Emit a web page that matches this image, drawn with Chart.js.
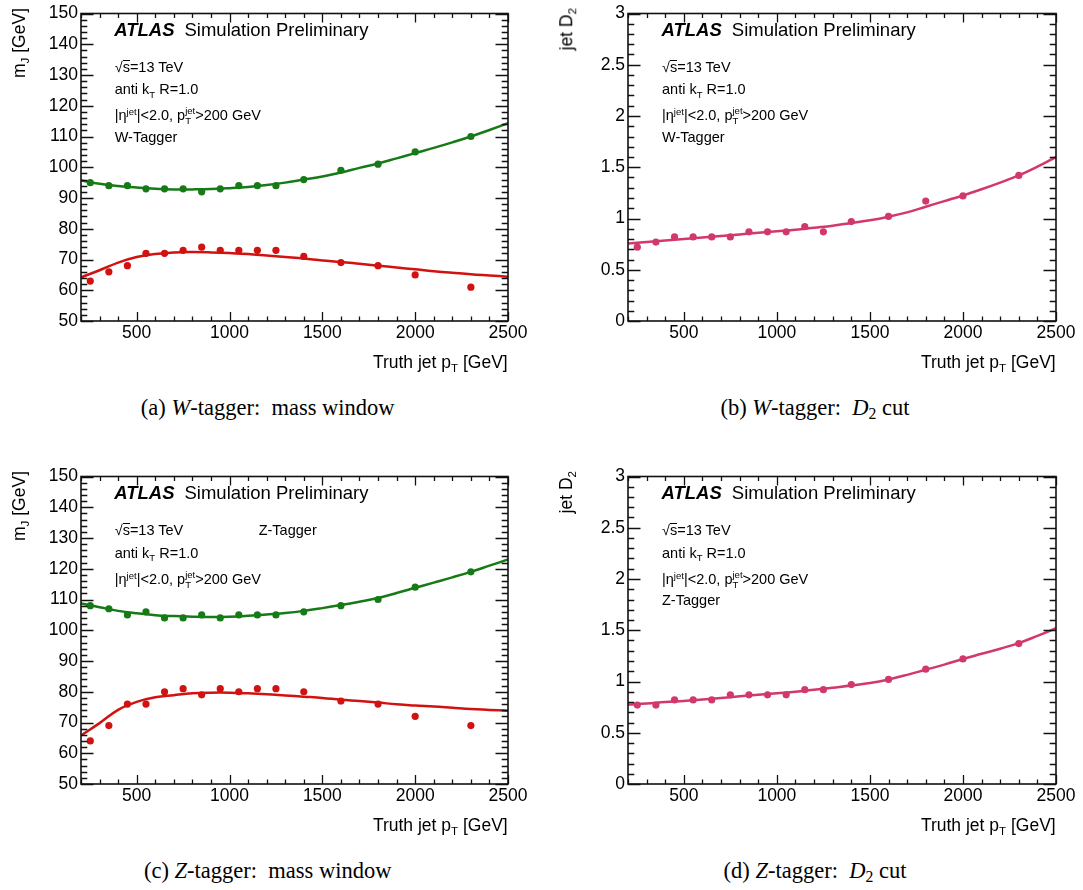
<!DOCTYPE html>
<html>
<head>
<meta charset="utf-8">
<title>W/Z tagger working points</title>
<script src="https://cdn.jsdelivr.net/npm/chart.js"></script>
<style>
  body { margin: 0; background: #fff; width: 1083px; height: 890px; position: relative; overflow: hidden;
         font-family: "Liberation Sans", Arial, Helvetica, sans-serif; color: #000; }
  canvas { position: absolute; }
  .t { position: absolute; white-space: nowrap; line-height: 1; }
  .atlas { font-size: 18.5px; }
  .atlas b { font-style: italic; font-weight: bold; margin-right: 10px; }
  .info { font-size: 14.5px; }
  .sb { position: relative; top: 0.38em; font-size: 0.66em; }
  .sp { position: relative; top: -0.5em; font-size: 0.66em; }
  .stk { display: inline-block; vertical-align: middle; font-size: 0.66em; line-height: 1.05; }
  .stk span { display: block; }
  .ov { border-top: 1px solid #000; line-height: 0.85; display: inline-block; }
  .axt { font-size: 17.5px; }
  .ytitle { transform-origin: 0 0; transform: rotate(-90deg) translate(-100%, -50%); }
  .xtitle { transform: translateX(-100%); }
  .cap { font-family: "Liberation Serif", "Times New Roman", serif; font-size: 22.5px; transform: translateX(-50%); }
  .cap i { font-style: italic; }
  .cap sub { font-size: 0.7em; vertical-align: -0.25em; line-height: 0; }
</style>
</head>
<body>
<canvas id="cA"></canvas>
<canvas id="cB"></canvas>
<canvas id="cC"></canvas>
<canvas id="cD"></canvas>

<script>
// truth jet pT bin centres and the x positions where the fit curves are sampled
const binCentres = [250, 350, 450, 550, 650, 750, 850, 950, 1050, 1150, 1250, 1400, 1600, 1800, 2000, 2300];
const curveX = [200, 300, 400, 500, 600, 700, 800, 900, 1000, 1100, 1200, 1300, 1400, 1500, 1600, 1700, 1800, 1900, 2000, 2100, 2200, 2300, 2400, 2500];

// W-tagger mass window
const wUpperPts = [95, 94, 94, 93, 93, 93, 92, 93, 94, 94, 94, 96, 99, 101, 105, 110];
const wLowerPts = [63, 66, 68, 72, 72, 73, 74, 73, 73, 73, 73, 71, 69, 68, 65, 61];
const wUpperFit = [95.7, 94.6, 93.9, 93.4, 93.0, 92.8, 92.8, 92.9, 93.2, 93.6, 94.2, 95.0, 96.0, 97.0, 98.3, 99.8, 101.2, 102.9, 104.6, 106.3, 108.1, 110.0, 112.1, 114.3];
const wLowerFit = [64.2, 66.5, 69.0, 70.8, 71.8, 72.3, 72.4, 72.3, 72.1, 71.8, 71.3, 70.8, 70.3, 69.7, 69.2, 68.6, 68.0, 67.4, 66.8, 66.2, 65.7, 65.2, 64.8, 64.4];

// W-tagger D2 cut
const wD2Pts = [0.72, 0.77, 0.82, 0.82, 0.82, 0.82, 0.87, 0.87, 0.87, 0.92, 0.87, 0.97, 1.02, 1.17, 1.22, 1.42];
const wD2Fit = [0.755, 0.77, 0.785, 0.80, 0.815, 0.83, 0.845, 0.86, 0.875, 0.89, 0.91, 0.93, 0.955, 0.983, 1.018, 1.06, 1.115, 1.17, 1.225, 1.285, 1.35, 1.42, 1.505, 1.60];

// Z-tagger mass window
const zUpperPts = [108, 107, 105, 106, 104, 104, 105, 104, 105, 105, 105, 106, 108, 110, 114, 119];
const zLowerPts = [64, 69, 76, 76, 80, 81, 79, 81, 80, 81, 81, 80, 77, 76, 72, 69];
const zUpperFit = [108.7, 107.5, 106.3, 105.5, 104.9, 104.6, 104.4, 104.3, 104.4, 104.7, 105.1, 105.6, 106.3, 107.2, 108.2, 109.3, 110.5, 112.1, 113.8, 115.5, 117.2, 119.0, 121.0, 123.0];
const zLowerFit = [65.8, 69.8, 74.1, 76.7, 78.2, 78.9, 79.5, 79.7, 79.7, 79.5, 79.2, 78.8, 78.4, 78.0, 77.4, 77.0, 76.5, 75.9, 75.5, 75.2, 74.8, 74.4, 74.1, 73.8];

// Z-tagger D2 cut
const zD2Pts = [0.77, 0.77, 0.82, 0.82, 0.82, 0.87, 0.87, 0.87, 0.87, 0.92, 0.92, 0.97, 1.02, 1.12, 1.22, 1.37];
const zD2Fit = [0.775, 0.785, 0.80, 0.81, 0.825, 0.84, 0.855, 0.87, 0.885, 0.90, 0.92, 0.94, 0.96, 0.985, 1.02, 1.065, 1.115, 1.165, 1.22, 1.27, 1.32, 1.375, 1.445, 1.52];

// tick labels
const xTickLabels = [500, 1000, 1500, 2000, 2500];
const massTickLabels = [50, 60, 70, 80, 90, 100, 110, 120, 130, 140, 150];
const d2TickLabels = [0, 0.5, 1, 1.5, 2, 2.5, 3];

const GREEN = '#167a16';
const RED = '#d21111';
const PINK = '#d2386b';

const FONT = '"Liberation Sans", Arial, sans-serif';

function pairs(xs, ys) { return ys.map((y, i) => ({ x: xs[i], y })); }

function curve(ys, color) {
  return { data: pairs(curveX, ys), showLine: true, borderColor: color, borderWidth: 2.5,
           pointRadius: 0, tension: 0.4, fill: false };
}
function points(ys, color) {
  return { data: pairs(binCentres, ys), showLine: false, backgroundColor: color, borderColor: color,
           borderWidth: 0, pointRadius: 3.6 };
}

// ROOT style frame: box with inward ticks on all four sides
function rootFrame(yMin, yMax, minor, every) {
  return {
    id: 'rootFrame',
    afterDraw(chart) {
      const { ctx, chartArea, scales } = chart;
      const { left, right, top, bottom } = chartArea;
      const x = scales.x, y = scales.y;
      ctx.save();
      ctx.strokeStyle = '#111';
      ctx.lineWidth = 1.3;
      ctx.beginPath();
      for (let v = 200; v <= 2500; v += 100) {
        const px = Math.round(x.getPixelForValue(v)) + 0.5;
        const len = v % 500 === 0 ? 9 : 4.5;
        ctx.moveTo(px, bottom); ctx.lineTo(px, bottom - len);
        ctx.moveTo(px, top); ctx.lineTo(px, top + len);
      }
      const n = Math.round((yMax - yMin) / minor);
      for (let i = 0; i <= n; i++) {
        const py = Math.round(y.getPixelForValue(yMin + i * minor)) + 0.5;
        const len = i % every === 0 ? 12.5 : 6.3;
        ctx.moveTo(left, py); ctx.lineTo(left + len, py);
        ctx.moveTo(right, py); ctx.lineTo(right - len, py);
      }
      ctx.stroke();
      ctx.lineWidth = 1.6;
      ctx.strokeRect(left, top, right - left, bottom - top);
      ctx.restore();
    }
  };
}

function makePanel(id, L, T, R, B, yMin, yMax, yLabels, minor, every, datasets) {
  const cv = document.getElementById(id);
  const w = Math.round(R - L) + 80 + 30;
  const h = Math.round(B - T) + 10 + 40;
  cv.width = w; cv.height = h;
  cv.style.left = (L - 80) + 'px';
  cv.style.top = (T - 10) + 'px';
  cv.style.width = w + 'px'; cv.style.height = h + 'px';
  new Chart(cv, {
    type: 'scatter',
    data: { datasets },
    options: {
      responsive: false,
      animation: false,
      devicePixelRatio: 1,
      layout: { padding: { top: 10, right: 30, left: 0, bottom: 0 } },
      plugins: { legend: { display: false }, tooltip: { enabled: false } },
      scales: {
        x: {
          type: 'linear', min: 200, max: 2500,
          grid: { display: false, drawTicks: false },
          border: { display: false },
          afterBuildTicks: s => { s.ticks = xTickLabels.map(v => ({ value: v })); },
          afterFit: s => { s.height = 40; },
          ticks: { color: '#000', font: { family: FONT, size: 17.5 }, padding: 2,
                   autoSkip: false, maxRotation: 0, callback: v => String(v) }
        },
        y: {
          type: 'linear', min: yMin, max: yMax,
          grid: { display: false, drawTicks: false },
          border: { display: false },
          afterBuildTicks: s => { s.ticks = yLabels.map(v => ({ value: v })); },
          afterFit: s => { s.width = 80; },
          ticks: { color: '#000', font: { family: FONT, size: 17.5 }, padding: 3, autoSkip: false,
                   callback: v => String(v) }
        }
      }
    },
    plugins: [rootFrame(yMin, yMax, minor, every)]
  });
}

// panel geometry (plot areas)
const colL = [80.7, 628], colR = [507.7, 1055.7];
const rowT = [9.5, 473], rowB = [320.7, 784];

makePanel('cA', colL[0], rowT[0], colR[0], rowB[0], 50, 150, massTickLabels, 2, 5,
  [curve(wUpperFit, GREEN), curve(wLowerFit, RED), points(wUpperPts, GREEN), points(wLowerPts, RED)]);
makePanel('cB', colL[1], rowT[0], colR[1], rowB[0], 0, 3, d2TickLabels, 0.1, 5,
  [curve(wD2Fit, PINK), points(wD2Pts, PINK)]);
makePanel('cC', colL[0], rowT[1], colR[0], rowB[1], 50, 150, massTickLabels, 2, 5,
  [curve(zUpperFit, GREEN), curve(zLowerFit, RED), points(zUpperPts, GREEN), points(zLowerPts, RED)]);
makePanel('cD', colL[1], rowT[1], colR[1], rowB[1], 0, 3, d2TickLabels, 0.1, 5,
  [curve(zD2Fit, PINK), points(zD2Pts, PINK)]);

// text labels of each panel
function addText(cls, html, left, top) {
  const d = document.createElement('div');
  d.className = 't ' + cls;
  d.innerHTML = html;
  d.style.left = left + 'px';
  d.style.top = top + 'px';
  document.body.appendChild(d);
  return d;
}

const etaLine = '|&eta;<span class="sp">jet</span>|&lt;2.0, p<span class="stk"><span>jet</span><span>T</span></span>&gt;200 GeV';

function panelText(col, row, tagger, taggerInline, yTitle, caption) {
  const L = colL[col], T = rowT[row], R = colR[col], B = rowB[row];
  addText('atlas', '<b>ATLAS</b>Simulation Preliminary', L + 33.5, T + 20.5 - 9.25);
  addText('info', '&radic;<span class="ov">s</span>=13 TeV', L + 34, T + 57.5 - 7.25);
  addText('info', 'anti k<span class="sb">T</span> R=1.0', L + 34, T + 80 - 7.25);
  addText('info', etaLine, L + 34, T + 104 - 7.25);
  if (taggerInline) addText('info', tagger, L + 178, T + 57.5 - 7.25);
  else addText('info', tagger, L + 34, T + 127.5 - 7.25);
  addText('axt ytitle', yTitle, L - 61, T - 2);
  addText('axt xtitle', 'Truth jet p<span class="sb">T</span> [GeV]', R, B + 33);
  addText('cap', caption, L + 187, B + 76);
}

panelText(0, 0, 'W-Tagger', false, 'm<span class="sb">J</span> [GeV]', '(a) <i>W</i>-tagger:&nbsp; mass window');
panelText(1, 0, 'W-Tagger', false, 'jet D<span class="sb">2</span>', '(b) <i>W</i>-tagger:&nbsp; <i>D</i><sub>2</sub> cut');
panelText(0, 1, 'Z-Tagger', true, 'm<span class="sb">J</span> [GeV]', '(c) <i>Z</i>-tagger:&nbsp; mass window');
panelText(1, 1, 'Z-Tagger', false, 'jet D<span class="sb">2</span>', '(d) <i>Z</i>-tagger:&nbsp; <i>D</i><sub>2</sub> cut');
</script>
</body>
</html>
